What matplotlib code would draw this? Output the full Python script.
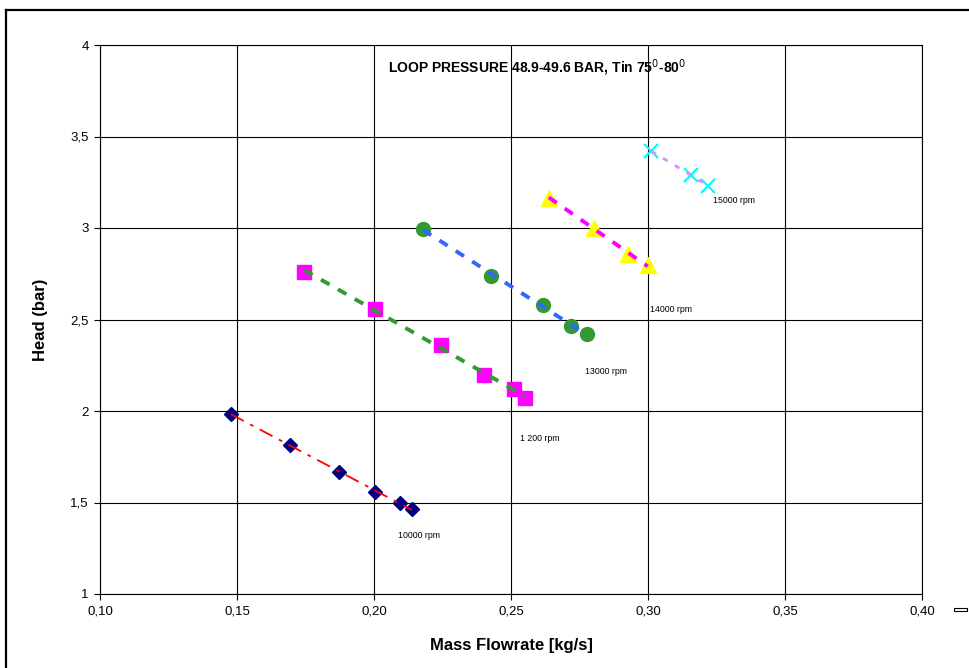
import numpy as np
import matplotlib
matplotlib.use('Agg')
import matplotlib.pyplot as plt
from matplotlib.ticker import FuncFormatter, MultipleLocator
from matplotlib.lines import Line2D
from matplotlib.patches import Rectangle

plt.rcParams['font.family'] = ['Liberation Sans', 'DejaVu Sans']

##### data #####
flow_10000 = [0.1478, 0.1693, 0.1872, 0.2004, 0.2095, 0.2139]
head_10000 = [1.984, 1.814, 1.667, 1.557, 1.497, 1.464]

flow_12000 = [0.1745, 0.2004, 0.2245, 0.2401, 0.2511, 0.2551]
head_12000 = [2.760, 2.557, 2.361, 2.197, 2.120, 2.071]

flow_13000 = [0.2179, 0.2427, 0.2616, 0.2718, 0.2778]
head_13000 = [2.996, 2.738, 2.578, 2.464, 2.422]

flow_14000 = [0.2638, 0.2803, 0.2926, 0.2999]
head_14000 = [3.166, 3.002, 2.856, 2.796]

flow_15000 = [0.3011, 0.3156, 0.3220]
head_15000 = [3.421, 3.290, 3.230]

speed_labels = ['10000 rpm', '1 200 rpm', '13000 rpm', '14000 rpm', '15000 rpm']

##### figure #####
fig = plt.figure(figsize=(9.7, 6.68), dpi=100)
ax = fig.add_axes([100 / 970, 74 / 668, 822 / 970, 549 / 668])

# outer chart border (top and left edge visible)
fig.add_artist(Line2D([6 / 970, 1.0], [1 - 10 / 668, 1 - 10 / 668], color='black', lw=1.6))
fig.add_artist(Line2D([6 / 970, 6 / 970], [0.0, 1 - 10 / 668], color='black', lw=1.6))
# little empty legend box
fig.add_artist(Rectangle((954 / 970, 1 - 611 / 668), 13 / 970, 3.5 / 668,
                         transform=fig.transFigure, fill=False, edgecolor='black', lw=0.8))


def trend(x, y):
    k, b = np.polyfit(x, y, 1)
    xs = np.array([min(x), max(x)])
    return xs, k * xs + b


series = [
    (flow_10000, head_10000, 'D', '#000080', 7, 'red', (0, (8, 4, 2, 4)), 1.3),
    (flow_12000, head_12000, 's', '#FF00FF', 10.5, '#339933', (0, (2.5, 2.5)), 2.8),
    (flow_13000, head_13000, 'o', '#339933', 10, '#3366FF', (0, (2.5, 2.5)), 2.8),
    (flow_14000, head_14000, '^', '#FFFF00', 11, '#FF00FF', (0, (2.5, 2.5)), 2.8),
    (flow_15000, head_15000, 'x', '#00FFFF', 10, '#CC99FF', (0, (2, 3)), 2.0),
]

for x, y, mk, mc, ms, lc, ls, lw in series:
    if mk == 'x':
        ax.plot(x, y, linestyle='none', marker=mk, markersize=ms, color=mc, mew=1.6, zorder=3)
    else:
        ax.plot(x, y, linestyle='none', marker=mk, markersize=ms, color=mc, mec=mc, zorder=3)
    xs, ys = trend(x, y)
    ax.plot(xs, ys, color=lc, linestyle=ls, lw=lw, zorder=4)

# speed labels
label_pos = [(0.2088, 1.32), (0.2533, 1.85), (0.2770, 2.215), (0.3007, 2.552), (0.3236, 3.149)]
for (lx, ly), txt in zip(label_pos, speed_labels):
    ax.text(lx, ly, txt, fontsize=6.3, ha='left', va='center')

ax.text(0.2595, 3.874, 'LOOP PRESSURE 48.9-49.6 BAR, Tin 75$^0$-80$^0$',
        fontsize=10, fontweight='bold', ha='center', va='center')

##### axes #####
ax.set_xlim(0.10, 0.40)
ax.set_ylim(1, 4)
ax.xaxis.set_major_locator(MultipleLocator(0.05))
ax.yaxis.set_major_locator(MultipleLocator(0.5))
ax.xaxis.set_major_formatter(FuncFormatter(lambda v, p: f'{v:.2f}'.replace('.', ',')))
ax.yaxis.set_major_formatter(FuncFormatter(lambda v, p: f'{v:g}'.replace('.', ',')))
ax.tick_params(direction='out', length=4, width=0.8, labelsize=9.5, pad=4)
ax.grid(True, color='black', lw=0.8)
ax.set_axisbelow(True)
for s in ax.spines.values():
    s.set_linewidth(0.8)

ax.set_xlabel('Mass Flowrate [kg/s]', fontsize=12, fontweight='bold', labelpad=15)
ax.set_ylabel('Head (bar)', fontsize=12, fontweight='bold', labelpad=16)

plt.savefig('out.png', dpi=100)
